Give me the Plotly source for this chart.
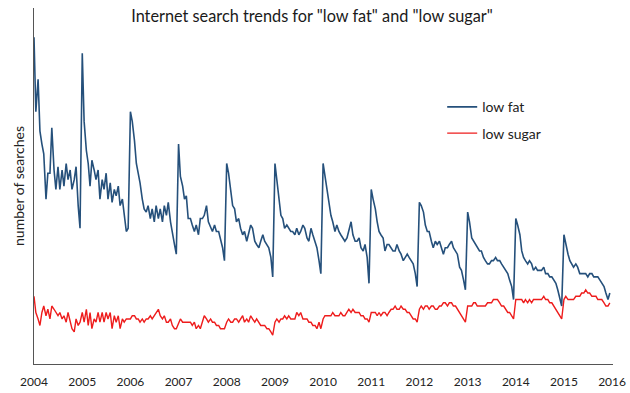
import pandas as pd
import plotly.graph_objects as go

# Semi-monthly readings (1st and 15th of each month), Jan 2004 - Dec 2015
low_fat = {
    2004: [100, 77, 87, 71, 67, 64, 50, 58, 58, 72, 59, 53, 60, 53, 59, 54, 61, 56, 59, 53, 56, 60, 48, 41],
    2005: [95, 74, 65, 61, 54, 62, 59, 56, 59, 50, 56, 53, 58, 50, 55, 49, 53, 51, 54, 48, 50, 45, 40, 41],
    2006: [77, 74, 68, 61, 58, 55, 50, 47, 46, 48, 44, 47, 43, 48, 44, 47, 43, 48, 45, 49, 43, 39, 36, 33],
    2007: [67, 57, 54, 50, 51, 44, 44, 42, 40, 42, 39, 44, 44, 45, 48, 43, 41, 40, 42, 40, 40, 38, 35, 31],
    2008: [61, 58, 53, 48, 47, 43, 44, 41, 39, 40, 37, 39, 42, 41, 37, 36, 35, 37, 39, 37, 36, 35, 32, 26],
    2009: [61, 56, 50, 45, 44, 41, 42, 41, 40, 40, 39, 41, 39, 40, 42, 41, 38, 37, 41, 39, 37, 35, 31, 27],
    2010: [61, 57, 52, 48, 45, 43, 40, 42, 40, 39, 38, 37, 38, 40, 43, 39, 37, 37, 38, 35, 34, 36, 32, 24],
    2011: [53, 50, 47, 43, 40, 39, 38, 34, 36, 36, 35, 34, 34, 36, 34, 33, 31, 32, 33, 32, 31, 30, 27, 23],
    2012: [49, 48, 46, 42, 40, 40, 37, 35, 37, 36, 37, 35, 33, 35, 35, 36, 37, 35, 34, 33, 29, 28, 25, 22],
    2013: [46, 43, 38, 37, 36, 35, 34, 34, 32, 31, 30, 30, 31, 31, 32, 31, 31, 30, 29, 28, 27, 25, 23, 19],
    2014: [44, 42, 39, 34, 32, 31, 30, 31, 30, 28, 29, 28, 28, 28, 29, 27, 27, 26, 26, 25, 24, 22, 19, 17],
    2015: [39, 36, 33, 31, 30, 29, 30, 29, 27, 27, 27, 27, 26, 27, 27, 26, 26, 26, 25, 24, 23, 21, 19, 21],
}
low_sugar = {
    2004: [20, 15, 13, 11, 15, 17, 14, 16, 13, 17, 16, 15, 14, 15, 13, 14, 12, 15, 12, 10, 9, 13, 11, 12],
    2005: [15, 12, 16, 11, 15, 10, 13, 12, 15, 12, 15, 12, 15, 13, 15, 10, 14, 12, 14, 10, 13, 12, 13, 13],
    2006: [13, 14, 14, 13, 13, 12, 13, 12, 13, 13, 14, 13, 14, 15, 16, 14, 13, 14, 12, 12, 13, 11, 10, 10],
    2007: [12, 13, 12, 12, 12, 12, 12, 11, 12, 10, 11, 10, 12, 14, 13, 12, 13, 12, 12, 11, 11, 10, 10, 10],
    2008: [12, 13, 12, 12, 13, 13, 12, 13, 14, 12, 13, 12, 14, 13, 12, 13, 12, 11, 11, 11, 10, 10, 9, 8],
    2009: [12, 13, 12, 13, 13, 14, 13, 14, 13, 13, 13, 15, 14, 15, 13, 13, 13, 12, 12, 11, 11, 10, 12, 10],
    2010: [13, 14, 14, 14, 14, 15, 14, 14, 14, 15, 14, 14, 15, 16, 15, 16, 15, 15, 15, 14, 14, 13, 13, 12],
    2011: [15, 15, 15, 14, 15, 14, 15, 15, 14, 15, 16, 16, 17, 16, 16, 17, 16, 16, 15, 15, 14, 13, 13, 12],
    2012: [16, 17, 16, 17, 17, 16, 17, 17, 16, 16, 17, 17, 18, 18, 17, 18, 18, 17, 17, 16, 15, 14, 13, 12],
    2013: [17, 17, 17, 18, 18, 17, 17, 17, 17, 17, 18, 18, 18, 19, 19, 19, 18, 17, 17, 16, 15, 15, 14, 13],
    2014: [19, 19, 19, 19, 18, 19, 18, 19, 18, 19, 19, 19, 19, 19, 20, 19, 19, 18, 18, 17, 16, 15, 14, 13],
    2015: [19, 20, 19, 19, 19, 19, 20, 20, 20, 21, 21, 22, 21, 21, 20, 20, 20, 19, 19, 19, 18, 17, 17, 18],
}
years = list(range(2004, 2016))
tick_years = [str(y) for y in range(2004, 2017)]

fat_vals = [v for y in years for v in low_fat[y]]
sugar_vals = [v for y in years for v in low_sugar[y]]
dates = pd.date_range("2004-01-01", periods=len(fat_vals), freq="SMS")

FONT = "Lato"
BLUE = "#25507B"
RED = "#EE1C1C"
W, H = 630, 393

fig = go.Figure()
fig.add_trace(go.Scatter(x=dates, y=fat_vals, mode="lines", name="low fat",
                         legendgroup="a", line=dict(color=BLUE, width=1.6)))
fig.add_trace(go.Scatter(x=dates, y=sugar_vals, mode="lines", name="low sugar",
                         legendgroup="b", line=dict(color=RED, width=1.4)))

fig.update_layout(
    width=W, height=H,
    margin=dict(l=34, r=17, t=8, b=29, autoexpand=False),
    paper_bgcolor="white", plot_bgcolor="white",
    font=dict(family=FONT, color="#222222"),
    title=dict(text='Internet search trends for "low fat" and "low sugar"',
               x=312 / W, xanchor="center", y=1 - 16 / H, yanchor="middle",
               yref="container", automargin=False,
               font=dict(family=FONT, size=16.3, color="#1a1a1a")),
    showlegend=True,
    legend=dict(x=0.705, y=0.766, xanchor="left", yanchor="top",
                traceorder="grouped", tracegroupgap=5,
                font=dict(family=FONT, size=14, color="#222222"),
                bgcolor="rgba(0,0,0,0)"),
)
fig.update_xaxes(
    type="date", range=["2004-01-01", "2016-01-08"], automargin=False,
    tickmode="array", tickvals=[f"{y}-01-01" for y in tick_years], ticktext=tick_years,
    ticks="", ticklabelstandoff=7, showgrid=False, zeroline=False,
    showline=True, linecolor="#555555", linewidth=1,
    tickfont=dict(family=FONT, size=12, color="#222222"),
)
fig.update_yaxes(
    range=[-0.9, 109], automargin=False, showticklabels=False, ticks="",
    showgrid=False, zeroline=False,
    showline=True, linecolor="#555555", linewidth=1,
    title=dict(text="number of searches", standoff=5,
               font=dict(family=FONT, size=14, color="#222222")),
)

# remove the browser's default 8px page margin so the 630x393 figure fills the window
fig.write_html(
    "out.html",
    config={"displayModeBar": False},
    post_script=("document.documentElement.style.margin='0';"
                 "document.body.style.margin='0';"
                 "document.body.style.overflow='hidden';"),
)
